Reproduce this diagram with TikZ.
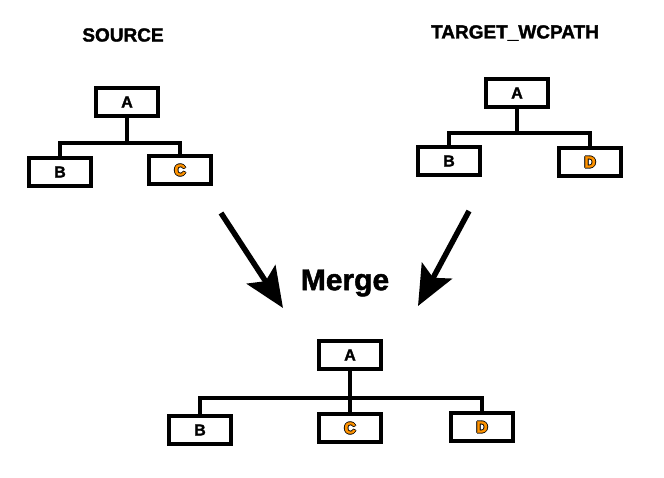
\documentclass[tikz,border=0pt]{standalone}
\usepackage{fontspec}
\setmainfont{Liberation Sans}
\newfontfamily\heavy[FakeBold=1.6]{Liberation Sans Bold}
\usetikzlibrary{arrows.meta}

% orange letter with a dark rim
\newcommand{\rimmed}[1]{%
  \rlap{\kern-0.9pt#1}\rlap{\kern0.9pt#1}%
  \rlap{\raisebox{0.9pt}{#1}}\rlap{\raisebox{-0.9pt}{#1}}%
  \textcolor{orange!85!yellow}{#1}}

\begin{document}
\begin{tikzpicture}[
  x=1pt, y=-1pt,
  every node/.style={font=\heavy},
  box/.style={draw, line width=3.4pt, minimum width=62pt, minimum height=28pt,
              inner sep=0pt, font=\heavy\fontsize{16}{16}\selectfont},
  link/.style={line width=3.4pt},
  title/.style={font=\heavy\fontsize{19}{19}\selectfont},
  bigarrow/.style={line width=5.5pt, -{Stealth[length=40pt, width=34pt, inset=8pt]}},
]
  \useasboundingbox (0,0) rectangle (664,478);
  % Titles
  \node[title] (srcTitle) at (123,35) {SOURCE};
  \node[title] (tgtTitle) at (515,33) {TARGET\_WCPATH};
  % Source tree
  \node[box] (sA) at (127,102) {A};
  \node[box] (sB) at (60,172) {B};
  \node[box] (sC) at (180,170) {\rimmed{C}};
  \coordinate (sBar) at (127,143);
  \draw[link] (sA.south) -- (sA.south |- sBar);
  \draw[link] (sB.north) -- (sB.north |- sBar) -- (sC.north |- sBar) -- (sC.north);
  % Target tree
  \node[box] (tA) at (517,93) {A};
  \node[box] (tB) at (449,161) {B};
  \node[box] (tD) at (590,162) {\rimmed{D}};
  \coordinate (tBar) at (517,133);
  \draw[link] (tA.south) -- (tA.south |- tBar);
  \draw[link] (tB.north) -- (tB.north |- tBar) -- (tD.north |- tBar) -- (tD.north);
  % Merge
  \node[font=\heavy\fontsize{30}{30}\selectfont] (merge) at (345,283) {Merge};
  \coordinate (lTail) at (221,213);
  \coordinate (lTip) at (283,308);
  \coordinate (rTail) at (469,211);
  \coordinate (rTip) at (418,306);
  \draw[bigarrow] (lTail) -- (lTip);
  \draw[bigarrow] (rTail) -- (rTip);
  % Merged tree
  \node[box] (mA) at (350,355) {A};
  \node[box] (mB) at (200,430) {B};
  \node[box] (mC) at (350,428) {\rimmed{C}};
  \node[box] (mD) at (482,427) {\rimmed{D}};
  \coordinate (mBar) at (350,398);
  \draw[link] (mA.south) -- (mC.north);
  \draw[link] (mB.north) -- (mB.north |- mBar) -- (mD.north |- mBar) -- (mD.north);
\end{tikzpicture}
\end{document}
